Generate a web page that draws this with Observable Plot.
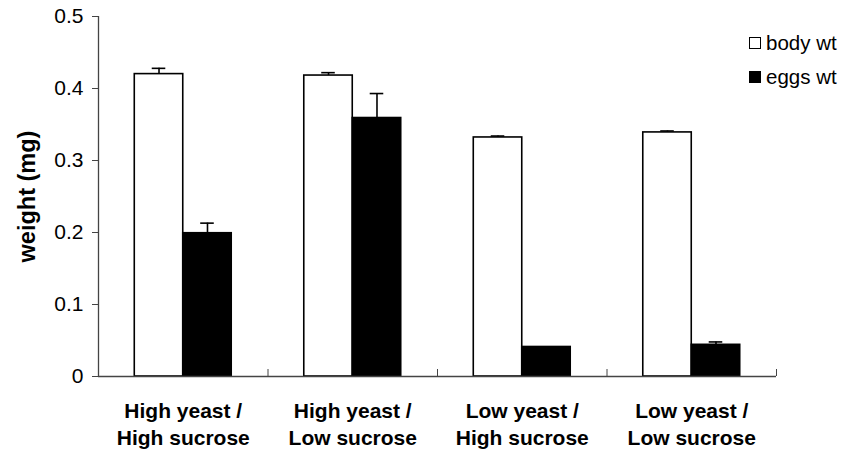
<!DOCTYPE html>
<html>
<head>
<meta charset="utf-8">
<script src="https://cdn.jsdelivr.net/npm/d3@7"></script>
<script src="https://cdn.jsdelivr.net/npm/@observablehq/plot@0.6"></script>
<style>
  html, body { margin: 0; padding: 0; background: #fff; }
  #wrap { position: relative; width: 842px; height: 449px; font-family: "Liberation Sans", Arial, sans-serif; }
  #legend { position: absolute; left: 749px; top: 26px; font-size: 20.5px; color: #000; }
  #legend .item { display: flex; align-items: center; height: 34px; }
  #legend .sw { width: 10px; height: 10px; border: 1.3px solid #000; margin-right: 5px; box-sizing: content-box; }
  svg [aria-label="y-axis label"] text { font-weight: bold; font-size: 23.5px; }
</style>
</head>
<body>
<div id="wrap"></div>
<script>
const categories = ["High yeast /\nHigh sucrose", "High yeast /\nLow sucrose", "Low yeast /\nHigh sucrose", "Low yeast /\nLow sucrose"];
const seriesNames = ["body wt", "eggs wt"];
const seriesFill = ["#ffffff", "#000000"];
const bodyWt  = [0.420, 0.418, 0.332, 0.339];
const bodyErr = [0.008, 0.004, 0.002, 0.002];
const eggsWt  = [0.199, 0.359, 0.041, 0.044];
const eggsErr = [0.014, 0.034, 0.000, 0.004];
const yTicks = [0, 0.1, 0.2, 0.3, 0.4, 0.5];

// layout (fractions of a category slot)
const barW = 0.286;
const capHalf = 0.04;

const rows = [];
categories.forEach((c, i) => {
  rows.push({i, s: 0, v: bodyWt[i], e: bodyErr[i]});
  rows.push({i, s: 1, v: eggsWt[i], e: eggsErr[i]});
});
const x1 = d => d.i + 0.5 + (d.s === 0 ? -barW : 0);
const x2 = d => d.i + 0.5 + (d.s === 0 ? 0 : barW);
const xc = d => d.i + 0.5 + (d.s === 0 ? -barW / 2 : barW / 2);
const errRows = rows.filter(d => d.e > 0);

const chart = Plot.plot({
  width: 842,
  height: 449,
  marginLeft: 98,
  marginRight: 66,
  marginTop: 16,
  marginBottom: 73,
  style: {fontFamily: "Liberation Sans, Arial, sans-serif", fontSize: "21px", color: "#000", background: "#fff"},
  x: {type: "linear", domain: [0, categories.length]},
  y: {domain: [0, 0.5], label: "weight (mg)"},
  marks: [
    Plot.ruleX(errRows, {x: xc, y1: d => d.v, y2: d => d.v + d.e, stroke: "#000", strokeWidth: 1.6}),
    Plot.ruleY(errRows, {y: d => d.v + d.e, x1: d => xc(d) - capHalf, x2: d => xc(d) + capHalf, stroke: "#000", strokeWidth: 1.6}),
    Plot.rectY(rows, {x1, x2, y1: 0, y2: d => d.v, fill: d => seriesFill[d.s], stroke: "#000", strokeWidth: 1.6}),
    Plot.ruleX([0], {y1: 0, y2: 0.5, stroke: "#444", strokeWidth: 1.3}),
    Plot.ruleY([0], {stroke: "#444", strokeWidth: 1.3}),
    Plot.axisY({ticks: yTicks, tickFormat: d => d === 0 ? "0" : d.toFixed(1), tickSize: 6, tickPadding: 9, stroke: "#444",
      fontSize: 21, label: "weight (mg)", labelAnchor: "center", labelArrow: "none", labelOffset: 80}),
    Plot.axisX({ticks: d3.range(categories.length + 1), tickSize: -7, tickFormat: () => "", stroke: "#444", label: null}),
    Plot.axisX({ticks: categories.map((c, i) => i + 0.5), tickFormat: d => categories[Math.floor(d)], tickSize: 0,
      tickPadding: 22, fontSize: 21, fontWeight: "bold", lineHeight: 1.3, label: null})
  ]
});
const wrap = document.getElementById("wrap");
wrap.appendChild(chart);
const legend = document.createElement("div");
legend.id = "legend";
seriesNames.forEach((n, k) => {
  const it = document.createElement("div");
  it.className = "item";
  const sw = document.createElement("span");
  sw.className = "sw";
  sw.style.background = seriesFill[k];
  const t = document.createElement("span");
  t.textContent = n;
  it.appendChild(sw); it.appendChild(t);
  legend.appendChild(it);
});
wrap.appendChild(legend);
</script>
</body>
</html>
